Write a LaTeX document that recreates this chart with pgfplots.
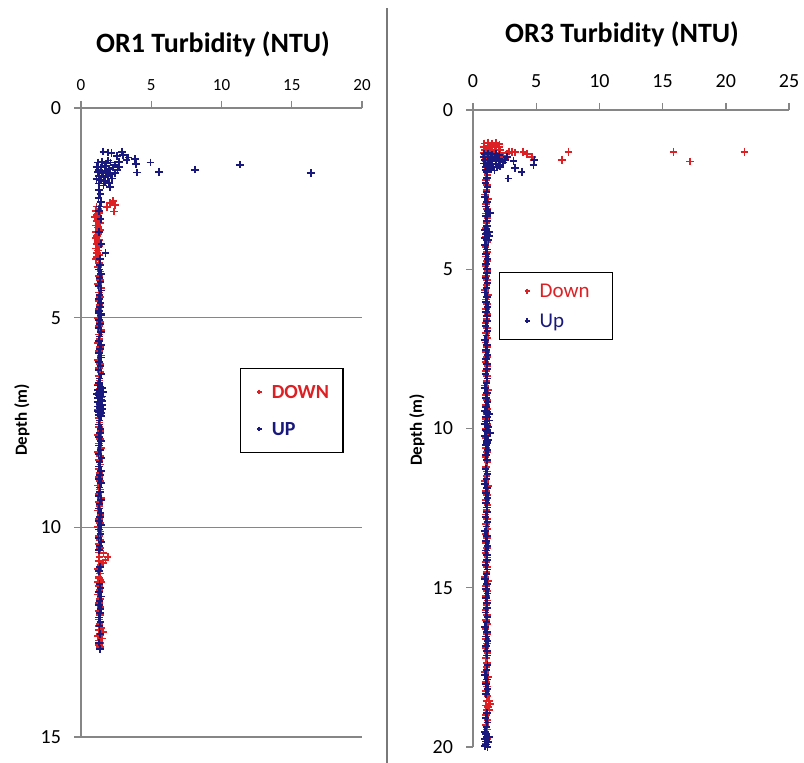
\documentclass[border=0pt]{standalone}
\usepackage{fontspec}
\setmainfont{Carlito}
\usepackage{pgfplots}
\pgfplotsset{compat=1.18}
\definecolor{downred}{RGB}{220,32,36}
\definecolor{upnavy}{RGB}{25,25,125}
\definecolor{axgray}{RGB}{134,134,134}
\pgfplotsset{
  turbaxis/.style={
    scale only axis, y dir=reverse,
    axis x line*=top, axis y line*=left,
    axis line style={axgray, line width=0.7pt},
    tick style={axgray, line width=0.7pt},
    tick align=outside, major tick length=3.5pt,
    /pgf/number format/assume math mode=true,
    clip=false, legend cell align=left,
    yticklabel style={font=\fontsize{10}{12}\selectfont, xshift=-3pt},
  },
  downpts/.style={only marks, mark=+, mark size=1.9pt, color=downred,
    mark options={line width=0.9pt},
    legend image code/.code={\path (0pt,-3pt) (8pt,3pt);
      \draw[##1, mark size=1.2pt, line width=0.5pt] plot coordinates {(4pt,0pt)};}},
  uppts/.style={only marks, mark=+, mark size=1.9pt, color=upnavy,
    mark options={line width=0.9pt},
    legend image code/.code={\path (0pt,-3pt) (8pt,3pt);
      \draw[##1, mark size=1.2pt, line width=0.5pt] plot coordinates {(4pt,0pt)};}},
}
\begin{document}
\begin{tikzpicture}
\useasboundingbox (0pt,0pt) rectangle (402pt,-381.5pt);

% panel divider
\draw[axgray!90!black, line width=0.8pt] (193.5pt,-4pt) -- (193.5pt,-381.5pt);

\node[font=\fontsize{14}{16}\selectfont\bfseries] at (106.5pt,-22pt) {OR1 Turbidity (NTU)};
\node[font=\fontsize{14}{16}\selectfont\bfseries] at (311pt,-17pt) {OR3 Turbidity (NTU)};
\node[font=\fontsize{8.5}{10}\selectfont\bfseries, rotate=90] at (11pt,-210pt) {Depth (m)};
\node[font=\fontsize{8.5}{10}\selectfont\bfseries, rotate=90] at (208.5pt,-215pt) {Depth (m)};

% ---------------- OR1 ----------------
\begin{axis}[turbaxis,
  at={(40.5pt,-54pt)}, anchor=north west,
  width=140.5pt, height=314.5pt,
  xmin=0, xmax=20, ymin=0, ymax=15,
  xtick={0,5,10,15,20}, ytick={0,5,10,15},
  xticklabel style={font=\fontsize{8.5}{10}\selectfont, yshift=1.5pt},
  ymajorgrids, grid style={axgray, line width=0.7pt},
  legend style={at={(axis description cs:0.566,0.587)}, anchor=north west,
    draw=black, line width=0.6pt, inner xsep=5pt, inner ysep=6.5pt, row sep=8pt,
    nodes={text depth=0pt},
    font=\fontsize{10}{12}\selectfont\bfseries},
]
\addplot[downpts] coordinates {
(2.06,2.27)(2.30,2.22)(2.42,2.31)(2.35,2.47)(1.85,2.36)
(1.10,2.35)(1.25,2.40)(1.05,2.45)(1.30,2.50)(1.15,2.55)(1.00,2.60)(1.28,2.65)(1.12,2.70)(1.35,2.75)(1.05,2.80)
(1.22,2.85)(1.40,2.90)(1.08,2.95)(1.25,3.00)(1.15,3.05)(1.02,3.10)(1.32,3.15)(1.18,3.20)(1.10,3.25)(1.28,3.30)
(1.05,3.35)(1.20,3.40)(1.12,3.45)(1.30,3.50)(1.15,3.55)(1.08,3.60)
(1.30,3.7)(1.22,3.8)(1.38,3.9)(1.26,4.0)(1.34,4.1)(1.20,4.2)(1.42,4.3)(1.28,4.4)(1.35,4.5)(1.24,4.6)
(1.32,4.7)(1.25,4.8)(1.40,4.9)(1.22,5.0)(1.36,5.1)(1.28,5.2)(1.44,5.3)(1.26,5.4)(1.33,5.5)(1.21,5.6)
(1.37,5.7)(1.29,5.8)(1.41,5.9)(1.23,6.0)(1.35,6.1)(1.27,6.2)(1.39,6.3)(1.24,6.4)(1.31,6.5)(1.20,6.6)
(1.34,6.7)(1.26,6.8)(1.43,6.9)(1.28,7.0)(1.36,7.1)(1.22,7.2)(1.38,7.3)(1.25,7.4)(1.33,7.5)(1.29,7.6)
(1.40,7.7)(1.23,7.8)(1.35,7.9)(1.27,8.0)(1.42,8.1)(1.21,8.2)(1.34,8.3)(1.26,8.4)(1.39,8.5)(1.24,8.6)
(1.31,8.7)(1.28,8.8)(1.37,8.9)(1.22,9.0)(1.36,9.1)(1.25,9.2)(1.41,9.3)(1.27,9.4)(1.33,9.5)(1.20,9.6)
(1.38,9.7)(1.26,9.8)(1.35,9.9)(1.23,10.0)(1.40,10.1)(1.28,10.2)(1.34,10.3)(1.24,10.4)(1.37,10.5)(1.29,10.6)
(1.32,10.7)(1.25,10.8)(1.39,10.9)(1.22,11.0)(1.36,11.1)(1.27,11.2)(1.42,11.3)(1.26,11.4)(1.33,11.5)(1.21,11.6)
(1.35,11.7)(1.28,11.8)(1.40,11.9)(1.24,12.0)(1.34,12.1)(1.27,12.2)(1.31,12.3)
(1.60,10.62)(1.90,10.70)(1.75,10.78)(1.55,10.85)(1.25,11.18)(1.40,11.25)(1.20,11.30)
(1.30,12.35)(1.45,12.40)(1.25,12.45)(1.55,12.50)(1.35,12.55)(1.20,12.60)(1.50,12.65)(1.30,12.70)(1.40,12.75)(1.28,12.80)(1.35,12.85)
};
\addlegendentry{\textcolor{downred}{DOWN}}
\addplot[uppts] coordinates {
(1.59,1.04)(1.94,1.06)(2.17,1.08)(2.90,1.04)(3.00,1.12)(3.25,1.24)(3.37,1.18)(3.84,1.22)(3.91,1.34)(4.00,1.54)
(4.95,1.30)(5.55,1.52)(8.10,1.47)(11.30,1.35)(16.35,1.55)(2.55,1.15)(2.70,1.28)
(1.20,1.30)(1.50,1.28)(1.80,1.32)(2.10,1.30)(2.40,1.35)(1.10,1.40)(1.40,1.42)(1.70,1.38)(2.00,1.45)(2.30,1.42)
(2.60,1.48)(1.20,1.52)(1.50,1.55)(1.80,1.50)(2.10,1.58)(2.40,1.55)(1.30,1.62)(1.60,1.65)(1.90,1.62)(2.20,1.68)
(1.10,1.70)(1.40,1.72)(1.70,1.75)(2.00,1.78)(1.30,1.80)(1.60,1.85)(2.06,1.88)(1.25,1.48)(2.70,1.40)(1.95,1.25)
(1.30,1.95)(1.38,2.05)(1.25,2.15)(1.42,2.25)(1.33,2.35)(1.28,2.45)
(1.40,2.65)(1.30,2.95)(1.45,3.25)(1.75,3.46)(1.35,3.60)
(1.35,3.75)(1.28,3.85)(1.42,3.95)(1.31,4.05)(1.38,4.15)(1.25,4.25)(1.45,4.35)(1.33,4.45)(1.29,4.55)(1.40,4.65)
(1.36,4.75)(1.27,4.85)(1.43,4.95)(1.30,5.05)(1.37,5.15)(1.24,5.25)(1.44,5.35)(1.32,5.45)(1.28,5.55)(1.41,5.65)
(1.34,5.75)(1.26,5.85)(1.42,5.95)(1.29,6.05)(1.39,6.15)(1.25,6.25)(1.46,6.35)(1.33,6.45)(1.30,6.55)(1.38,6.65)
(1.35,6.75)(1.27,6.85)(1.43,6.95)(1.31,7.05)(1.37,7.15)(1.26,7.25)(1.44,7.35)(1.32,7.45)(1.29,7.55)(1.40,7.65)
(1.36,7.75)(1.28,7.85)(1.42,7.95)(1.30,8.05)(1.38,8.15)(1.24,8.25)(1.45,8.35)(1.33,8.45)(1.29,8.55)(1.41,8.65)
(1.34,8.75)(1.27,8.85)(1.43,8.95)(1.31,9.05)(1.37,9.15)(1.25,9.25)(1.44,9.35)(1.32,9.45)(1.28,9.55)(1.40,9.65)
(1.35,9.75)(1.26,9.85)(1.42,9.95)(1.30,10.05)(1.39,10.15)(1.25,10.25)(1.45,10.35)(1.33,10.45)(1.29,10.55)
(1.36,10.95)(1.28,11.05)(1.31,11.35)(1.38,11.45)(1.26,11.55)(1.43,11.65)(1.33,11.75)(1.29,11.85)(1.40,11.95)
(1.35,12.05)(1.27,12.15)(1.38,12.25)(1.32,12.35)(1.38,12.55)(1.30,12.75)(1.35,12.90)
(1.25,4.88)(1.45,4.92)
(1.18,6.62)(1.50,6.68)(1.22,6.72)(1.55,6.78)(1.15,6.82)(1.48,6.88)(1.20,6.92)(1.52,6.98)(1.17,7.02)(1.50,7.08)
(1.23,7.12)(1.54,7.18)(1.19,7.22)(1.47,7.28)(1.25,7.32)
};
\addlegendentry{\textcolor{upnavy}{UP}}
\end{axis}

% ---------------- OR3 ----------------
\begin{axis}[turbaxis,
  at={(236.5pt,-55pt)}, anchor=north west,
  width=158pt, height=318.5pt,
  xmin=0, xmax=25, ymin=0, ymax=20,
  xtick={0,5,10,15,20,25}, ytick={0,5,10,15,20},
  xticklabel style={font=\fontsize{10}{12}\selectfont, yshift=4pt},
  legend style={at={(axis description cs:0.082,0.746)}, anchor=north west,
    draw=black, line width=0.6pt, inner xsep=9.5pt, inner ysep=4pt, row sep=4pt,
    nodes={text depth=0pt},
    font=\fontsize{10.5}{12}\selectfont},
]
\addplot[downpts] coordinates {
(0.90,1.05)(1.20,1.02)(1.50,1.06)(1.80,1.04)(2.10,1.08)(0.85,1.15)(1.15,1.12)(1.45,1.18)(1.75,1.14)(2.05,1.16)
(0.95,1.25)(1.25,1.22)(1.55,1.28)(1.85,1.24)(2.15,1.26)(0.88,1.35)(1.18,1.32)(1.48,1.38)(1.78,1.34)(2.08,1.36)
(1.00,1.45)(1.30,1.42)(1.60,1.48)(1.90,1.44)(1.05,1.55)(1.40,1.52)
(3.06,1.31)(3.98,1.31)(4.25,1.38)(4.65,1.47)(4.78,1.57)(7.02,1.57)(7.55,1.31)(15.86,1.31)(17.18,1.62)(21.48,1.31)
(2.40,1.47)(2.67,1.36)(2.85,1.30)(3.30,1.33)(2.55,1.52)
(1.05,1.60)(1.12,1.75)(0.98,1.90)(1.15,2.05)(1.02,2.20)(1.10,2.35)(1.08,2.50)(0.96,2.65)(1.18,2.80)(1.04,2.95)
(1.09,3.10)(1.01,3.25)(1.14,3.40)(1.06,3.55)(0.99,3.70)(1.13,3.85)(1.03,4.00)(1.16,4.15)(1.00,4.30)(1.11,4.45)
(1.05,4.60)(1.12,4.75)(0.98,4.90)(1.15,5.05)(1.02,5.20)(1.10,5.35)(1.08,5.50)(0.96,5.65)(1.18,5.80)(1.04,5.95)
(1.09,6.10)(1.01,6.25)(1.14,6.40)(1.06,6.55)(0.99,6.70)(1.13,6.85)(1.03,7.00)(1.16,7.15)(1.00,7.30)(1.11,7.45)
(1.05,7.60)(1.12,7.75)(0.98,7.90)(1.15,8.05)(1.02,8.20)(1.10,8.35)(1.08,8.50)(0.96,8.65)(1.18,8.80)(1.04,8.95)
(1.09,9.10)(1.01,9.25)(1.14,9.40)(1.06,9.55)(0.99,9.70)(1.13,9.85)(1.03,10.00)(1.16,10.15)(1.00,10.30)(1.11,10.45)
(1.05,10.60)(1.12,10.75)(0.98,10.90)(1.15,11.05)(1.02,11.20)(1.10,11.35)(1.08,11.50)(0.96,11.65)(1.18,11.80)(1.04,11.95)
(1.09,12.10)(1.01,12.25)(1.14,12.40)(1.06,12.55)(0.99,12.70)(1.13,12.85)(1.03,13.00)(1.16,13.15)(1.00,13.30)(1.11,13.45)
(1.05,13.60)(1.12,13.75)(0.98,13.90)(1.15,14.05)(1.02,14.20)(1.10,14.35)(1.08,14.50)(0.96,14.65)(1.18,14.80)(1.04,14.95)
(1.09,15.10)(1.01,15.25)(1.14,15.40)(1.06,15.55)(0.99,15.70)(1.13,15.85)(1.03,16.00)(1.16,16.15)(1.00,16.30)(1.11,16.45)
(1.05,16.60)(1.12,16.75)(0.98,16.90)(1.15,17.05)(1.02,17.20)(1.10,17.35)(1.08,17.50)(0.96,17.65)(1.18,17.80)(1.04,17.95)
(1.09,18.10)(1.01,18.25)(1.14,18.40)(1.06,18.55)(0.99,18.70)(1.13,18.85)(1.03,19.00)(1.16,19.15)(1.00,19.30)(1.11,19.45)
(1.05,19.60)(1.12,19.75)(0.98,19.90)
(1.25,18.55)(1.35,18.65)(1.20,18.75)(1.30,18.85)
};
\addlegendentry{\textcolor{downred}{Down}}
\addplot[uppts] coordinates {
(0.90,1.38)(1.20,1.36)(1.50,1.40)(1.80,1.38)(2.10,1.42)(0.85,1.48)(1.15,1.46)(1.45,1.50)(1.75,1.48)(2.05,1.52)
(0.95,1.58)(1.25,1.56)(1.55,1.60)(1.85,1.58)(2.15,1.62)(0.88,1.68)(1.18,1.66)(1.48,1.70)(1.78,1.68)(2.08,1.72)
(1.00,1.78)(1.30,1.76)(1.60,1.80)(1.90,1.78)(1.05,1.88)(1.40,1.86)(1.70,1.90)(1.10,1.95)
(2.14,1.78)(2.53,1.57)(2.67,1.47)(2.80,2.15)(3.33,1.83)(3.85,1.94)(3.20,1.60)(4.78,1.73)(4.86,1.57)(2.35,1.65)
(1.10,2.13)(1.00,2.28)(1.14,2.43)(1.06,2.58)(0.97,2.73)(1.12,2.88)(1.03,3.03)(1.16,3.18)(1.35,3.24)(1.01,3.33)(1.09,3.48)
(1.10,3.63)(1.00,3.78)(1.14,3.93)(1.06,4.08)(0.97,4.23)(1.12,4.38)(1.03,4.53)(1.16,4.68)(1.01,4.83)(1.09,4.98)
(1.10,5.13)(1.00,5.28)(1.14,5.43)(1.06,5.58)(0.97,5.73)(1.12,5.88)(1.03,6.03)(1.16,6.18)(1.01,6.33)(1.09,6.48)
(1.10,6.63)(1.00,6.78)(1.14,6.93)(1.06,7.08)(0.97,7.23)(1.12,7.38)(1.03,7.53)(1.16,7.68)(1.01,7.83)(1.09,7.98)
(1.10,8.13)(1.00,8.28)(1.14,8.43)(1.06,8.58)(0.97,8.73)(1.12,8.88)(1.03,9.03)(1.16,9.18)(1.01,9.33)(1.09,9.48)
(1.10,9.63)(1.00,9.78)(1.14,9.93)(1.06,10.08)(0.97,10.23)(1.12,10.38)(1.03,10.53)(1.16,10.68)(1.01,10.83)(1.09,10.98)
(1.00,11.28)(1.14,11.43)(1.06,11.58)(0.97,11.73)(1.12,11.88)(1.03,12.03)(1.16,12.18)(1.01,12.33)(1.09,12.48)
(1.10,12.63)(1.00,12.78)(1.14,12.93)(1.06,13.08)(0.97,13.23)(1.12,13.38)(1.03,13.53)(1.16,13.68)(1.01,13.83)(1.09,13.98)
(1.10,14.13)(1.00,14.28)(1.14,14.43)(1.06,14.58)(0.97,14.73)(1.12,14.88)(1.03,15.03)(1.16,15.18)(1.01,15.33)(1.09,15.48)
(1.10,15.63)(1.00,15.78)(1.14,15.93)(1.06,16.08)(0.97,16.23)(1.12,16.38)(1.03,16.53)(1.16,16.68)(1.01,16.83)(1.09,16.98)
(1.10,17.13)(1.14,17.43)(1.06,17.58)(0.97,17.73)(1.12,17.88)(1.03,18.03)(1.16,18.18)(1.01,18.33)
(1.10,18.93)(1.00,19.08)(1.14,19.23)(1.06,19.38)(0.97,19.53)(1.12,19.68)(1.03,19.83)
(0.95,3.78)(1.25,3.82)(1.00,3.90)(1.30,3.95)(0.92,4.02)(1.22,4.08)
(0.95,9.45)(1.25,9.55)(1.00,9.65)(1.30,9.75)(0.92,9.85)(1.22,9.95)(1.05,10.05)(1.35,10.15)(0.95,10.25)(1.20,10.35)(1.10,10.45)
(1.00,19.60)(1.25,19.68)(0.95,19.76)(1.20,19.84)(1.05,19.92)(1.15,20.00)(0.95,19.96)
};
\addlegendentry{\textcolor{upnavy}{Up}}
\end{axis}
\end{tikzpicture}
\end{document}
